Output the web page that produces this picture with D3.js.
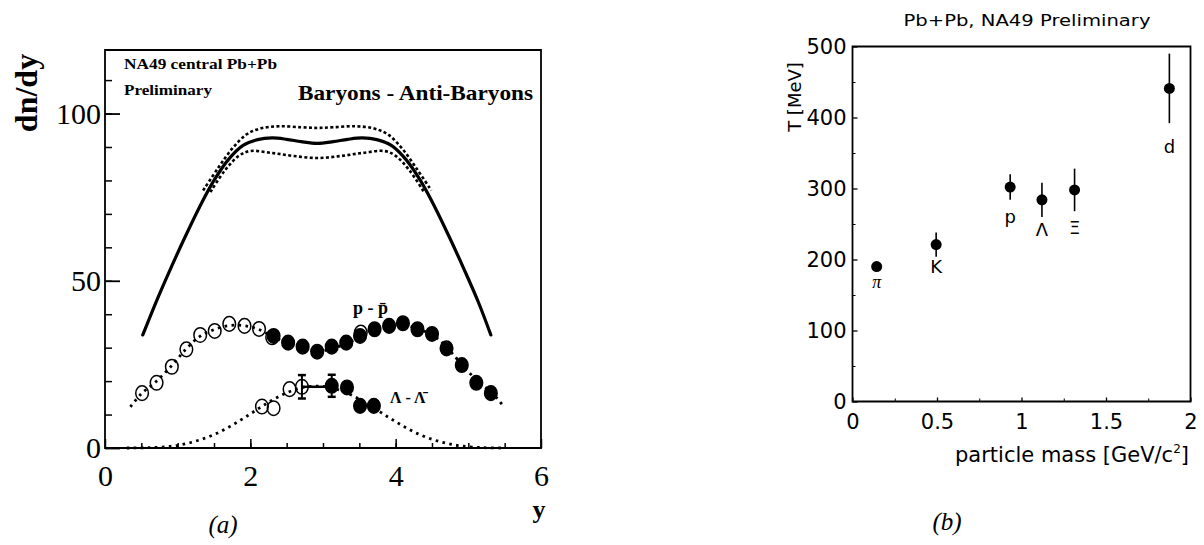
<!DOCTYPE html>
<html>
<head>
<meta charset="utf-8">
<script src="https://cdn.jsdelivr.net/npm/d3@7"></script>
<style>
  body { margin: 0; background: #fff; }
  .serif { font-family: "Liberation Serif", "Times New Roman", serif; }
  .sans { font-family: "DejaVu Sans", sans-serif; }
</style>
</head>
<body>
<div class="chart"></div>
<script>
// ---- panel (a): dn/dy vs rapidity ----
const solidX = [0.52, 0.7, 0.9, 1.1, 1.3, 1.5, 1.7, 1.9, 2.1, 2.3, 2.5, 2.7, 2.92, 3.14, 3.34, 3.54, 3.74, 3.94, 4.14, 4.34, 4.54, 4.74, 4.94, 5.14, 5.31];
const solidV = [33.8, 43.5, 53.5, 63, 72, 80, 86.3, 90.5, 92.2, 92.7, 92.3, 91.6, 91.1, 91.6, 92.3, 92.7, 92.2, 90.5, 86.3, 80, 72, 63, 53.5, 43.5, 33.8];

const upperX = [1.35, 1.55, 1.75, 1.95, 2.15, 2.4, 2.7, 2.92, 3.14, 3.44, 3.69, 3.89, 4.09, 4.29, 4.49];
const upperV = [77, 83.5, 89.5, 93.8, 95.6, 96.2, 95.9, 95.7, 95.9, 96.2, 95.6, 93.8, 89.5, 83.5, 77];
const lowerX = [1.45, 1.65, 1.85, 2.0, 2.3, 2.6, 2.92, 3.24, 3.54, 3.84, 3.99, 4.19, 4.39];
const lowerV = [76.5, 83, 87.5, 88.8, 88.2, 87.3, 86.7, 87.3, 88.2, 88.8, 87.5, 83, 76.5];

const pFitX = [0.35, 0.5, 0.7, 0.9, 1.1, 1.3, 1.5, 1.7, 1.9, 2.1, 2.3, 2.5, 2.7, 2.92, 3.14, 3.34, 3.54, 3.74, 3.94, 4.14, 4.34, 4.54, 4.74, 4.94, 5.14, 5.34, 5.49];
const pFitV = [12.3, 16.2, 19.8, 24.2, 29.2, 33.3, 35.4, 36.6, 36.6, 35.6, 33.4, 31.4, 29.8, 28.9, 29.8, 31.4, 33.4, 35.6, 36.6, 36.6, 35.4, 33.3, 29.2, 24.2, 19.8, 16.2, 12.3];
const pOpenX = [0.51, 0.71, 0.92, 1.12, 1.31, 1.51, 1.71, 1.92, 2.12, 2.30, 3.52];
const pOpenV = [16.4, 19.5, 24.3, 29.5, 33.8, 35.0, 37.1, 36.5, 35.6, 33.1, 34.5];
const pFillX = [2.32, 2.52, 2.72, 2.92, 3.12, 3.32, 3.51, 3.71, 3.91, 4.10, 4.30, 4.50, 4.70, 4.91, 5.11, 5.31];
const pFillV = [33.5, 31.5, 30.3, 28.8, 30.3, 31.5, 33.5, 35.5, 36.5, 37.3, 35.5, 34.1, 29.8, 24.8, 19.5, 16.4];

const lamFitX = [0.3, 0.6, 0.9, 1.1, 1.3, 1.5, 1.7, 1.9, 2.1, 2.3, 2.5, 2.7, 2.92, 3.1, 3.3, 3.5, 3.7, 3.9, 4.1, 4.3, 4.5, 4.7, 4.9, 5.2, 5.5];
const lamFitV = [0, 0.1, 0.5, 1.2, 2.4, 4.0, 6.2, 8.8, 11.6, 14.3, 16.5, 18, 18.5, 18.1, 16.7, 14.6, 12, 9.2, 6.6, 4.3, 2.6, 1.4, 0.6, 0.1, 0];
const lamOpenX = [2.16, 2.32, 2.54, 2.71];
const lamOpenV = [12.4, 11.9, 17.6, 18.3];
const lamOpenErr = [0, 0, 0, 3.5];
const lamFillX = [3.12, 3.33, 3.51, 3.70];
const lamFillV = [18.6, 18.1, 12.6, 12.6];
const lamFillErr = [3.3, 0, 0, 0];

const yTicksA = [0, 50, 100];
const xTicksA = [0, 2, 4, 6];

// ---- panel (b): T vs particle mass ----
const particles = ["π", "K", "p", "Λ", "Ξ", "d"];
const mass = [0.143, 0.495, 0.933, 1.121, 1.314, 1.875];
const temp = [190, 221, 302, 284, 298, 441];
const tempErr = [0, 17, 18, 24, 30, 49];
const yTicksB = [0, 100, 200, 300, 400, 500];
const xTicksB = [0, 0.5, 1, 1.5, 2];
const xTickLabelsB = ["0", "0.5", "1", "1.5", "2"];

const W = 1204, H = 545;
const svg = d3.select(".chart").append("svg")
    .attr("width", W).attr("height", H)
    .style("display", "block");

const zip = (xs, vs) => xs.map((x, i) => ({x: x, v: vs[i]}));

// ================= panel (a) =================
const xA = d3.scaleLinear().domain([0, 6]).range([105, 541]);
const yA = d3.scaleLinear().domain([0, 119]).range([448, 50]);

const gA = svg.append("g").attr("class", "serif");

// frame
gA.append("path")
    .attr("d", `M${xA(0)},${yA(0)}V${yA(119)}H${xA(6)}V${yA(0)}Z`)
    .attr("fill", "none").attr("stroke", "black").attr("stroke-width", 1.8);

// y ticks: minor then major
gA.append("g")
    .attr("transform", `translate(${xA(0)},0)`)
    .call(d3.axisLeft(yA).tickValues(d3.range(10, 120, 10)).tickSize(-7).tickFormat(""))
    .call(g => g.select(".domain").remove())
    .call(g => g.selectAll(".tick line").attr("stroke-width", 1.5));

gA.append("g")
    .attr("transform", `translate(${xA(0)},0)`)
    .call(d3.axisLeft(yA).tickValues(yTicksA).tickSize(-15).tickPadding(4).tickFormat(d3.format("d")))
    .call(g => g.select(".domain").remove())
    .call(g => g.selectAll(".tick line").attr("stroke-width", 1.8))
    .call(g => g.selectAll("text")
        .attr("font-family", "Liberation Serif")
        .attr("font-size", 30)
        .attr("fill", "black"));

// x ticks
gA.append("g")
    .attr("transform", `translate(0,${yA(0)})`)
    .call(d3.axisBottom(xA).tickValues(d3.range(0.5, 6, 0.5)).tickSize(-5).tickFormat(""))
    .call(g => g.select(".domain").remove())
    .call(g => g.selectAll(".tick line").attr("stroke-width", 1.5));

gA.append("g")
    .attr("transform", `translate(0,${yA(0)})`)
    .call(d3.axisBottom(xA).tickValues(xTicksA).tickSize(-9).tickPadding(17).tickFormat(d3.format("d")))
    .call(g => g.select(".domain").remove())
    .call(g => g.selectAll(".tick line").attr("stroke-width", 1.5))
    .call(g => g.selectAll("text")
        .attr("font-family", "Liberation Serif")
        .attr("font-size", 30)
        .attr("fill", "black"));

const lineA = d3.line()
    .x(d => xA(d.x))
    .y(d => yA(d.v))
    .curve(d3.curveCatmullRom);

// dotted band round the total
[zip(upperX, upperV), zip(lowerX, lowerV)].forEach(band => {
    gA.append("path")
        .datum(band)
        .attr("d", lineA)
        .attr("fill", "none")
        .attr("stroke", "black")
        .attr("stroke-width", 2.6)
        .attr("stroke-dasharray", "3,2.4");
});

// solid total baryon curve
gA.append("path")
    .datum(zip(solidX, solidV))
    .attr("d", lineA)
    .attr("fill", "none")
    .attr("stroke", "black")
    .attr("stroke-width", 3.2)
    .attr("stroke-linecap", "round");

// dotted fits
[zip(pFitX, pFitV), zip(lamFitX, lamFitV)].forEach(fit => {
    gA.append("path")
        .datum(fit)
        .attr("d", lineA)
        .attr("fill", "none")
        .attr("stroke", "black")
        .attr("stroke-width", 2.8)
        .attr("stroke-dasharray", "2.6,4.4");
});

const rx = 6.3, ry = 7.3;

function drawPoints(xs, vs, errs, filled) {
    const pts = xs.map((x, i) => ({x: x, v: vs[i], e: errs ? errs[i] : 0}));
    const g = gA.append("g");
    pts.filter(d => d.e > 0).forEach(d => {
        g.append("line")
            .attr("x1", xA(d.x)).attr("x2", xA(d.x))
            .attr("y1", yA(d.v - d.e)).attr("y2", yA(d.v + d.e))
            .attr("stroke", "black").attr("stroke-width", 2);
        [d.v - d.e, d.v + d.e].forEach(c => {
            g.append("line")
                .attr("x1", xA(d.x) - 4).attr("x2", xA(d.x) + 4)
                .attr("y1", yA(c)).attr("y2", yA(c))
                .attr("stroke", "black").attr("stroke-width", 2.5);
        });
    });
    g.selectAll("ellipse")
        .data(pts)
        .join("ellipse")
        .attr("cx", d => xA(d.x))
        .attr("cy", d => yA(d.v))
        .attr("rx", rx)
        .attr("ry", ry)
        .attr("fill", filled ? "black" : "none")
        .attr("stroke", "black")
        .attr("stroke-width", 1.5);
}

drawPoints(pOpenX, pOpenV, null, false);
drawPoints(pFillX, pFillV, null, true);

// short bar joining the two central Lambda points
gA.append("line")
    .attr("x1", xA(lamOpenX[3])).attr("x2", xA(lamFillX[0]))
    .attr("y1", yA(lamOpenV[3])).attr("y2", yA(lamOpenV[3]))
    .attr("stroke", "black").attr("stroke-width", 2.5);

drawPoints(lamOpenX, lamOpenV, lamOpenErr, false);
drawPoints(lamFillX, lamFillV, lamFillErr, true);

// texts
gA.append("text")
    .attr("x", 124).attr("y", 69)
    .attr("font-size", 15).attr("font-weight", "bold")
    .attr("textLength", 153).attr("lengthAdjust", "spacingAndGlyphs")
    .text("NA49 central Pb+Pb");
gA.append("text")
    .attr("x", 124).attr("y", 95)
    .attr("font-size", 15).attr("font-weight", "bold")
    .attr("textLength", 88).attr("lengthAdjust", "spacingAndGlyphs")
    .text("Preliminary");
gA.append("text")
    .attr("x", 298).attr("y", 100)
    .attr("font-size", 22).attr("font-weight", "bold")
    .attr("textLength", 235).attr("lengthAdjust", "spacingAndGlyphs")
    .text("Baryons - Anti-Baryons");

gA.append("text")
    .attr("x", 353).attr("y", 314)
    .attr("font-size", 18).attr("font-weight", "bold")
    .text("p - p\u0304");
gA.append("text")
    .attr("x", 390).attr("y", 403)
    .attr("font-size", 16).attr("font-weight", "bold")
    .text("Λ - Λ\u0304");

gA.append("text")
    .attr("transform", "translate(37,93) rotate(-90)")
    .attr("text-anchor", "middle")
    .attr("font-size", 32).attr("font-weight", "bold")
    .text("dn/dy");
gA.append("text")
    .attr("x", xA(6) - 2).attr("y", 518)
    .attr("text-anchor", "middle")
    .attr("font-size", 26).attr("font-weight", "bold")
    .text("y");
gA.append("text")
    .attr("x", 223).attr("y", 533)
    .attr("text-anchor", "middle")
    .attr("font-size", 25).attr("font-style", "italic")
    .text("(a)");

// ================= panel (b) =================
const xB = d3.scaleLinear().domain([0, 2]).range([852.5, 1190.5]);
const yB = d3.scaleLinear().domain([0, 500]).range([401.5, 46.5]);

const gB = svg.append("g").attr("class", "sans");

gB.append("path")
    .attr("d", `M${xB(0)},${yB(0)}V${yB(500)}H${xB(2)}V${yB(0)}Z`)
    .attr("fill", "none").attr("stroke", "black").attr("stroke-width", 1.8);

gB.append("g")
    .attr("transform", `translate(${xB(0)},0)`)
    .call(d3.axisLeft(yB).tickValues(d3.range(50, 500, 100)).tickSize(-3).tickFormat(""))
    .call(g => g.select(".domain").remove());
gB.append("g")
    .attr("transform", `translate(${xB(0)},0)`)
    .call(d3.axisLeft(yB).tickValues(yTicksB).tickSize(-5).tickPadding(6))
    .call(g => g.select(".domain").remove())
    .call(g => g.selectAll(".tick line").attr("stroke-width", 1.3))
    .call(g => g.selectAll("text")
        .attr("font-family", "DejaVu Sans")
        .attr("font-size", 21)
        .attr("fill", "black"));

gB.append("g")
    .attr("transform", `translate(0,${yB(0)})`)
    .call(d3.axisBottom(xB).tickValues(d3.range(0.25, 2, 0.5)).tickSize(-3).tickFormat(""))
    .call(g => g.select(".domain").remove());
gB.append("g")
    .attr("transform", `translate(0,${yB(0)})`)
    .call(d3.axisBottom(xB).tickValues(xTicksB).tickSize(-4).tickPadding(13)
        .tickFormat((d, i) => xTickLabelsB[i]))
    .call(g => g.select(".domain").remove())
    .call(g => g.selectAll(".tick line").attr("stroke-width", 1.3))
    .call(g => g.selectAll("text")
        .attr("font-family", "DejaVu Sans")
        .attr("font-size", 21)
        .attr("fill", "black"));

const pts = particles.map((p, i) => ({name: p, m: mass[i], t: temp[i], e: tempErr[i]}));

gB.selectAll(".err")
    .data(pts.filter(d => d.e > 0))
    .join("line")
    .attr("class", "err")
    .attr("x1", d => xB(d.m)).attr("x2", d => xB(d.m))
    .attr("y1", d => yB(d.t - d.e)).attr("y2", d => yB(d.t + d.e))
    .attr("stroke", "black").attr("stroke-width", 1.6);

gB.selectAll(".pt")
    .data(pts)
    .join("circle")
    .attr("class", "pt")
    .attr("cx", d => xB(d.m))
    .attr("cy", d => yB(d.t))
    .attr("r", 5.5)
    .attr("fill", "black");

// label offsets below each point (px)
const labelDy = [15, 22, 29, 30, 38, 58];
gB.selectAll(".lab")
    .data(pts)
    .join("text")
    .attr("class", "lab")
    .attr("x", d => xB(d.m))
    .attr("y", (d, i) => yB(d.t) + labelDy[i])
    .attr("dy", "0.36em")
    .attr("text-anchor", "middle")
    .attr("font-size", 18)
    .attr("font-family", (d, i) => i === 0 ? "Liberation Serif" : "DejaVu Sans")
    .attr("font-style", (d, i) => i === 0 ? "italic" : "normal")
    .text(d => d.name);

gB.append("text")
    .attr("x", 1027).attr("y", 26)
    .attr("text-anchor", "middle")
    .attr("font-size", 16)
    .attr("textLength", 247).attr("lengthAdjust", "spacingAndGlyphs")
    .text("Pb+Pb, NA49 Preliminary");

gB.append("text")
    .attr("transform", "translate(801,97) rotate(-90)")
    .attr("text-anchor", "middle")
    .attr("font-size", 18)
    .text("T [MeV]");

const xl = gB.append("text")
    .attr("x", 1189).attr("y", 462)
    .attr("text-anchor", "end")
    .attr("font-size", 21);
xl.append("tspan").text("particle mass [GeV/c");
xl.append("tspan").attr("font-size", 12).attr("dy", -9).text("2");
xl.append("tspan").attr("dy", 9).text("]");

gB.append("text")
    .attr("x", 947).attr("y", 530)
    .attr("text-anchor", "middle")
    .attr("font-family", "Liberation Serif")
    .attr("font-size", 25).attr("font-style", "italic")
    .text("(b)");
</script>
</body>
</html>
